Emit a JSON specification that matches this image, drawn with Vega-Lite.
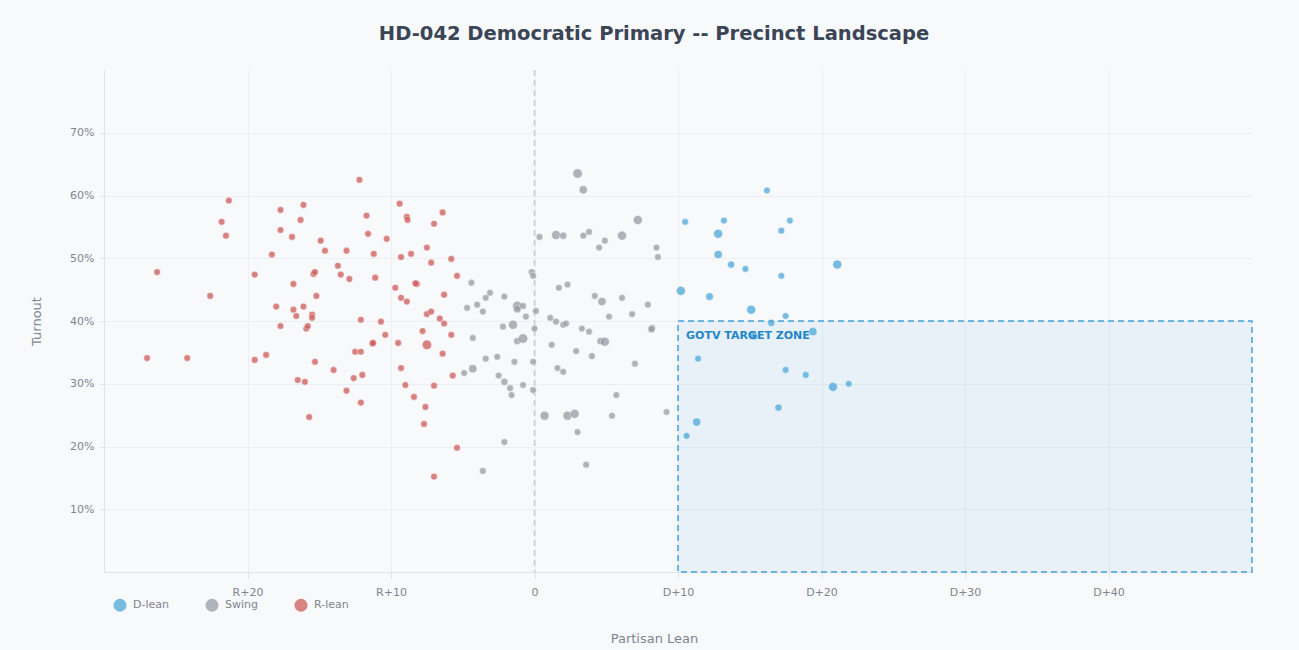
{
  "$schema": "https://vega.github.io/schema/vega-lite/v6.json",
  "autosize": {"type": "none"},
  "width": 1148,
  "height": 502,
  "padding": {"left": 104, "top": 70, "right": 47, "bottom": 78},
  "background": "#f8f9fb",
  "config": {
    "view": {"stroke": null, "fill": "#f8f9fb"},
    "font": "DejaVu Sans",
    "axis": {
      "labelFont": "DejaVu Sans", "titleFont": "DejaVu Sans",
      "labelColor": "#7f858f", "titleColor": "#7f858f",
      "labelFontSize": 11, "titleFontSize": 13, "titleFontWeight": "normal",
      "gridColor": "#eceef1", "domainColor": "#dfe2e6", "tickColor": "#dfe2e6"
    }
  },
  "title": {
    "text": "HD-042 Democratic Primary -- Precinct Landscape",
    "fontSize": 19.5, "font": "DejaVu Sans", "fontWeight": "bold", "color": "#3a4556",
    "anchor": "middle", "dx": -24, "offset": 25
  },
  "datasets": {
    "precincts": [
      {"lean": -27.0, "turnout": 0.341, "group": "R-lean", "voters": 900},
      {"lean": -24.2, "turnout": 0.341, "group": "R-lean", "voters": 900},
      {"lean": -26.3, "turnout": 0.478, "group": "R-lean", "voters": 900},
      {"lean": -22.6, "turnout": 0.440, "group": "R-lean", "voters": 900},
      {"lean": -21.8, "turnout": 0.558, "group": "R-lean", "voters": 900},
      {"lean": -21.5, "turnout": 0.536, "group": "R-lean", "voters": 900},
      {"lean": -21.3, "turnout": 0.592, "group": "R-lean", "voters": 900},
      {"lean": -19.5, "turnout": 0.474, "group": "R-lean", "voters": 900},
      {"lean": -19.5, "turnout": 0.338, "group": "R-lean", "voters": 900},
      {"lean": -18.7, "turnout": 0.346, "group": "R-lean", "voters": 900},
      {"lean": -18.3, "turnout": 0.506, "group": "R-lean", "voters": 900},
      {"lean": -18.0, "turnout": 0.423, "group": "R-lean", "voters": 900},
      {"lean": -17.7, "turnout": 0.545, "group": "R-lean", "voters": 900},
      {"lean": -17.7, "turnout": 0.577, "group": "R-lean", "voters": 900},
      {"lean": -17.7, "turnout": 0.392, "group": "R-lean", "voters": 900},
      {"lean": -16.9, "turnout": 0.534, "group": "R-lean", "voters": 900},
      {"lean": -16.8, "turnout": 0.459, "group": "R-lean", "voters": 900},
      {"lean": -16.8, "turnout": 0.418, "group": "R-lean", "voters": 900},
      {"lean": -16.6, "turnout": 0.408, "group": "R-lean", "voters": 900},
      {"lean": -16.5, "turnout": 0.306, "group": "R-lean", "voters": 900},
      {"lean": -16.3, "turnout": 0.561, "group": "R-lean", "voters": 900},
      {"lean": -16.1, "turnout": 0.585, "group": "R-lean", "voters": 900},
      {"lean": -16.1, "turnout": 0.423, "group": "R-lean", "voters": 900},
      {"lean": -16.0, "turnout": 0.303, "group": "R-lean", "voters": 900},
      {"lean": -15.9, "turnout": 0.388, "group": "R-lean", "voters": 900},
      {"lean": -15.8, "turnout": 0.392, "group": "R-lean", "voters": 900},
      {"lean": -15.7, "turnout": 0.247, "group": "R-lean", "voters": 900},
      {"lean": -15.5, "turnout": 0.410, "group": "R-lean", "voters": 900},
      {"lean": -15.5, "turnout": 0.405, "group": "R-lean", "voters": 900},
      {"lean": -15.4, "turnout": 0.475, "group": "R-lean", "voters": 900},
      {"lean": -15.3, "turnout": 0.478, "group": "R-lean", "voters": 900},
      {"lean": -15.2, "turnout": 0.440, "group": "R-lean", "voters": 900},
      {"lean": -15.3, "turnout": 0.335, "group": "R-lean", "voters": 900},
      {"lean": -14.9, "turnout": 0.528, "group": "R-lean", "voters": 900},
      {"lean": -14.6, "turnout": 0.512, "group": "R-lean", "voters": 900},
      {"lean": -14.0, "turnout": 0.322, "group": "R-lean", "voters": 900},
      {"lean": -13.7, "turnout": 0.488, "group": "R-lean", "voters": 900},
      {"lean": -13.5, "turnout": 0.474, "group": "R-lean", "voters": 900},
      {"lean": -13.1, "turnout": 0.512, "group": "R-lean", "voters": 900},
      {"lean": -13.1, "turnout": 0.289, "group": "R-lean", "voters": 900},
      {"lean": -12.9, "turnout": 0.467, "group": "R-lean", "voters": 900},
      {"lean": -12.6, "turnout": 0.309, "group": "R-lean", "voters": 900},
      {"lean": -12.5, "turnout": 0.351, "group": "R-lean", "voters": 900},
      {"lean": -12.2, "turnout": 0.625, "group": "R-lean", "voters": 900},
      {"lean": -12.1, "turnout": 0.351, "group": "R-lean", "voters": 900},
      {"lean": -12.1, "turnout": 0.402, "group": "R-lean", "voters": 900},
      {"lean": -12.0, "turnout": 0.314, "group": "R-lean", "voters": 900},
      {"lean": -12.1, "turnout": 0.270, "group": "R-lean", "voters": 900},
      {"lean": -11.7, "turnout": 0.568, "group": "R-lean", "voters": 900},
      {"lean": -11.6, "turnout": 0.539, "group": "R-lean", "voters": 900},
      {"lean": -11.3, "turnout": 0.364, "group": "R-lean", "voters": 900},
      {"lean": -11.25, "turnout": 0.365, "group": "R-lean", "voters": 900},
      {"lean": -11.2, "turnout": 0.507, "group": "R-lean", "voters": 900},
      {"lean": -11.1, "turnout": 0.469, "group": "R-lean", "voters": 900},
      {"lean": -10.7, "turnout": 0.399, "group": "R-lean", "voters": 900},
      {"lean": -10.4, "turnout": 0.378, "group": "R-lean", "voters": 900},
      {"lean": -10.3, "turnout": 0.531, "group": "R-lean", "voters": 900},
      {"lean": -9.7, "turnout": 0.453, "group": "R-lean", "voters": 900},
      {"lean": -9.5, "turnout": 0.365, "group": "R-lean", "voters": 900},
      {"lean": -9.4, "turnout": 0.587, "group": "R-lean", "voters": 900},
      {"lean": -9.3, "turnout": 0.502, "group": "R-lean", "voters": 900},
      {"lean": -9.3, "turnout": 0.437, "group": "R-lean", "voters": 900},
      {"lean": -9.3, "turnout": 0.325, "group": "R-lean", "voters": 900},
      {"lean": -8.9, "turnout": 0.566, "group": "R-lean", "voters": 900},
      {"lean": -8.85, "turnout": 0.561, "group": "R-lean", "voters": 900},
      {"lean": -9.0, "turnout": 0.298, "group": "R-lean", "voters": 900},
      {"lean": -8.9, "turnout": 0.431, "group": "R-lean", "voters": 900},
      {"lean": -8.6, "turnout": 0.507, "group": "R-lean", "voters": 900},
      {"lean": -8.4, "turnout": 0.279, "group": "R-lean", "voters": 900},
      {"lean": -8.2, "turnout": 0.459, "group": "R-lean", "voters": 900},
      {"lean": -8.3, "turnout": 0.460, "group": "R-lean", "voters": 900},
      {"lean": -7.8, "turnout": 0.384, "group": "R-lean", "voters": 900},
      {"lean": -7.6, "turnout": 0.263, "group": "R-lean", "voters": 900},
      {"lean": -7.7, "turnout": 0.236, "group": "R-lean", "voters": 900},
      {"lean": -7.5, "turnout": 0.411, "group": "R-lean", "voters": 900},
      {"lean": -7.5, "turnout": 0.517, "group": "R-lean", "voters": 900},
      {"lean": -7.5, "turnout": 0.362, "group": "R-lean", "voters": 1500},
      {"lean": -7.2, "turnout": 0.493, "group": "R-lean", "voters": 900},
      {"lean": -7.2, "turnout": 0.415, "group": "R-lean", "voters": 900},
      {"lean": -7.0, "turnout": 0.297, "group": "R-lean", "voters": 900},
      {"lean": -7.0, "turnout": 0.152, "group": "R-lean", "voters": 900},
      {"lean": -7.0, "turnout": 0.555, "group": "R-lean", "voters": 900},
      {"lean": -6.6, "turnout": 0.404, "group": "R-lean", "voters": 900},
      {"lean": -6.4, "turnout": 0.573, "group": "R-lean", "voters": 900},
      {"lean": -6.4, "turnout": 0.348, "group": "R-lean", "voters": 900},
      {"lean": -6.3, "turnout": 0.442, "group": "R-lean", "voters": 900},
      {"lean": -6.3, "turnout": 0.396, "group": "R-lean", "voters": 900},
      {"lean": -5.8, "turnout": 0.499, "group": "R-lean", "voters": 900},
      {"lean": -5.8, "turnout": 0.378, "group": "R-lean", "voters": 900},
      {"lean": -5.7, "turnout": 0.313, "group": "R-lean", "voters": 900},
      {"lean": -5.4, "turnout": 0.472, "group": "R-lean", "voters": 900},
      {"lean": -5.4, "turnout": 0.198, "group": "R-lean", "voters": 900},

      {"lean": 3.0, "turnout": 0.635, "group": "Swing", "voters": 1500},
      {"lean": 3.4, "turnout": 0.609, "group": "Swing", "voters": 1200},
      {"lean": 7.2, "turnout": 0.561, "group": "Swing", "voters": 1400},
      {"lean": 0.35, "turnout": 0.534, "group": "Swing", "voters": 900},
      {"lean": 1.5, "turnout": 0.537, "group": "Swing", "voters": 1400},
      {"lean": 2.0, "turnout": 0.536, "group": "Swing", "voters": 1000},
      {"lean": 3.4, "turnout": 0.536, "group": "Swing", "voters": 900},
      {"lean": 3.8, "turnout": 0.542, "group": "Swing", "voters": 900},
      {"lean": 6.1, "turnout": 0.536, "group": "Swing", "voters": 1400},
      {"lean": 4.9, "turnout": 0.528, "group": "Swing", "voters": 900},
      {"lean": 4.5, "turnout": 0.517, "group": "Swing", "voters": 900},
      {"lean": 8.5, "turnout": 0.517, "group": "Swing", "voters": 900},
      {"lean": 8.6, "turnout": 0.502, "group": "Swing", "voters": 900},
      {"lean": -0.2, "turnout": 0.478, "group": "Swing", "voters": 900},
      {"lean": -0.1, "turnout": 0.472, "group": "Swing", "voters": 900},
      {"lean": -4.4, "turnout": 0.461, "group": "Swing", "voters": 900},
      {"lean": 1.7, "turnout": 0.453, "group": "Swing", "voters": 900},
      {"lean": 2.3, "turnout": 0.458, "group": "Swing", "voters": 900},
      {"lean": -3.1, "turnout": 0.445, "group": "Swing", "voters": 900},
      {"lean": -3.4, "turnout": 0.437, "group": "Swing", "voters": 900},
      {"lean": -2.1, "turnout": 0.439, "group": "Swing", "voters": 900},
      {"lean": 4.2, "turnout": 0.440, "group": "Swing", "voters": 900},
      {"lean": 4.7, "turnout": 0.431, "group": "Swing", "voters": 1200},
      {"lean": 6.1, "turnout": 0.437, "group": "Swing", "voters": 900},
      {"lean": 7.9, "turnout": 0.426, "group": "Swing", "voters": 900},
      {"lean": -4.7, "turnout": 0.421, "group": "Swing", "voters": 900},
      {"lean": -4.0, "turnout": 0.426, "group": "Swing", "voters": 900},
      {"lean": -3.6, "turnout": 0.415, "group": "Swing", "voters": 900},
      {"lean": -1.2, "turnout": 0.424, "group": "Swing", "voters": 1500},
      {"lean": -1.2, "turnout": 0.419, "group": "Swing", "voters": 1100},
      {"lean": -0.8, "turnout": 0.424, "group": "Swing", "voters": 900},
      {"lean": -0.6, "turnout": 0.407, "group": "Swing", "voters": 900},
      {"lean": 0.1, "turnout": 0.416, "group": "Swing", "voters": 900},
      {"lean": 1.1, "turnout": 0.405, "group": "Swing", "voters": 900},
      {"lean": 1.5, "turnout": 0.399, "group": "Swing", "voters": 900},
      {"lean": 2.0, "turnout": 0.394, "group": "Swing", "voters": 900},
      {"lean": 2.2, "turnout": 0.396, "group": "Swing", "voters": 900},
      {"lean": 3.3, "turnout": 0.388, "group": "Swing", "voters": 900},
      {"lean": 3.8, "turnout": 0.383, "group": "Swing", "voters": 900},
      {"lean": 5.2, "turnout": 0.407, "group": "Swing", "voters": 900},
      {"lean": 6.8, "turnout": 0.411, "group": "Swing", "voters": 900},
      {"lean": 8.2, "turnout": 0.389, "group": "Swing", "voters": 900},
      {"lean": 8.15, "turnout": 0.387, "group": "Swing", "voters": 1000},
      {"lean": -2.2, "turnout": 0.391, "group": "Swing", "voters": 900},
      {"lean": -1.5, "turnout": 0.394, "group": "Swing", "voters": 1400},
      {"lean": -4.3, "turnout": 0.373, "group": "Swing", "voters": 900},
      {"lean": -1.2, "turnout": 0.368, "group": "Swing", "voters": 1000},
      {"lean": -0.8, "turnout": 0.372, "group": "Swing", "voters": 1500},
      {"lean": 0.0, "turnout": 0.388, "group": "Swing", "voters": 900},
      {"lean": 1.2, "turnout": 0.362, "group": "Swing", "voters": 900},
      {"lean": 2.9, "turnout": 0.352, "group": "Swing", "voters": 900},
      {"lean": 4.0, "turnout": 0.344, "group": "Swing", "voters": 900},
      {"lean": 4.6, "turnout": 0.368, "group": "Swing", "voters": 1000},
      {"lean": 4.9, "turnout": 0.367, "group": "Swing", "voters": 1400},
      {"lean": 7.0, "turnout": 0.332, "group": "Swing", "voters": 900},
      {"lean": -3.4, "turnout": 0.340, "group": "Swing", "voters": 900},
      {"lean": -2.6, "turnout": 0.343, "group": "Swing", "voters": 900},
      {"lean": -1.4, "turnout": 0.335, "group": "Swing", "voters": 900},
      {"lean": -0.1, "turnout": 0.335, "group": "Swing", "voters": 900},
      {"lean": 1.6, "turnout": 0.325, "group": "Swing", "voters": 900},
      {"lean": 2.0, "turnout": 0.319, "group": "Swing", "voters": 900},
      {"lean": -4.9, "turnout": 0.317, "group": "Swing", "voters": 900},
      {"lean": -4.3, "turnout": 0.324, "group": "Swing", "voters": 1200},
      {"lean": -2.5, "turnout": 0.313, "group": "Swing", "voters": 900},
      {"lean": -2.1, "turnout": 0.303, "group": "Swing", "voters": 1000},
      {"lean": -1.7, "turnout": 0.293, "group": "Swing", "voters": 900},
      {"lean": -1.6, "turnout": 0.282, "group": "Swing", "voters": 900},
      {"lean": -0.8, "turnout": 0.298, "group": "Swing", "voters": 900},
      {"lean": -0.1, "turnout": 0.290, "group": "Swing", "voters": 900},
      {"lean": 5.7, "turnout": 0.282, "group": "Swing", "voters": 900},
      {"lean": 0.7, "turnout": 0.249, "group": "Swing", "voters": 1400},
      {"lean": 2.3, "turnout": 0.249, "group": "Swing", "voters": 1400},
      {"lean": 2.8, "turnout": 0.252, "group": "Swing", "voters": 1400},
      {"lean": 5.4, "turnout": 0.249, "group": "Swing", "voters": 900},
      {"lean": 9.2, "turnout": 0.255, "group": "Swing", "voters": 900},
      {"lean": 3.0, "turnout": 0.223, "group": "Swing", "voters": 900},
      {"lean": -2.1, "turnout": 0.207, "group": "Swing", "voters": 900},
      {"lean": 3.6, "turnout": 0.171, "group": "Swing", "voters": 900},
      {"lean": -3.6, "turnout": 0.161, "group": "Swing", "voters": 900},

      {"lean": 16.2, "turnout": 0.608, "group": "D-lean", "voters": 900},
      {"lean": 10.5, "turnout": 0.558, "group": "D-lean", "voters": 900},
      {"lean": 13.2, "turnout": 0.560, "group": "D-lean", "voters": 900},
      {"lean": 17.8, "turnout": 0.560, "group": "D-lean", "voters": 900},
      {"lean": 17.2, "turnout": 0.544, "group": "D-lean", "voters": 900},
      {"lean": 12.8, "turnout": 0.539, "group": "D-lean", "voters": 1400},
      {"lean": 12.8, "turnout": 0.506, "group": "D-lean", "voters": 1200},
      {"lean": 13.7, "turnout": 0.490, "group": "D-lean", "voters": 1000},
      {"lean": 14.7, "turnout": 0.483, "group": "D-lean", "voters": 900},
      {"lean": 21.1, "turnout": 0.490, "group": "D-lean", "voters": 1400},
      {"lean": 17.2, "turnout": 0.472, "group": "D-lean", "voters": 900},
      {"lean": 10.2, "turnout": 0.448, "group": "D-lean", "voters": 1400},
      {"lean": 12.2, "turnout": 0.439, "group": "D-lean", "voters": 1100},
      {"lean": 15.1, "turnout": 0.418, "group": "D-lean", "voters": 1400},
      {"lean": 17.5, "turnout": 0.408, "group": "D-lean", "voters": 900},
      {"lean": 16.5, "turnout": 0.397, "group": "D-lean", "voters": 1000},
      {"lean": 19.4, "turnout": 0.383, "group": "D-lean", "voters": 1200},
      {"lean": 15.3, "turnout": 0.376, "group": "D-lean", "voters": 1100},
      {"lean": 11.4, "turnout": 0.340, "group": "D-lean", "voters": 900},
      {"lean": 17.5, "turnout": 0.322, "group": "D-lean", "voters": 900},
      {"lean": 18.9, "turnout": 0.314, "group": "D-lean", "voters": 900},
      {"lean": 20.8, "turnout": 0.295, "group": "D-lean", "voters": 1400},
      {"lean": 21.9, "turnout": 0.300, "group": "D-lean", "voters": 900},
      {"lean": 17.0, "turnout": 0.262, "group": "D-lean", "voters": 1000},
      {"lean": 11.3, "turnout": 0.239, "group": "D-lean", "voters": 1200},
      {"lean": 10.6, "turnout": 0.217, "group": "D-lean", "voters": 900}
    ],
    "zone": [
      {"label": "GOTV TARGET ZONE", "lean_min": 10, "lean_max": 50, "turnout_min": 0, "turnout_max": 0.4}
    ],
    "center": [{"lean": 0}]
  },
  "layer": [
    {
      "data": {"name": "zone"},
      "mark": {"type": "rect", "fill": "#3498db", "fillOpacity": 0.08, "stroke": "#3498db", "strokeWidth": 1.5, "strokeDash": [6, 4], "strokeOpacity": 0.9},
      "encoding": {
        "x": {"field": "lean_min", "type": "quantitative", "scale": {"domain": [-30, 50], "nice": false, "zero": false},
          "axis": {
            "values": [-20, -10, 0, 10, 20, 30, 40],
            "labelExpr": "datum.value < 0 ? 'R+' + abs(datum.value) : (datum.value > 0 ? 'D+' + datum.value : '0')",
            "title": "Partisan Lean", "titleX": 550, "titleY": 66, "titleBaseline": "middle",
            "tickSize": 6, "labelPadding": 8, "domain": true, "grid": true
          }},
        "x2": {"field": "lean_max"},
        "y": {"field": "turnout_min", "type": "quantitative", "scale": {"domain": [0, 0.8], "nice": false},
          "axis": {
            "values": [0.1, 0.2, 0.3, 0.4, 0.5, 0.6, 0.7], "format": ".0%",
            "title": "Turnout", "titleX": -68, "titleY": 251, "titleAngle": -90, "titleBaseline": "middle", "titleAlign": "center",
            "tickSize": 4, "labelPadding": 6, "grid": true
          }},
        "y2": {"field": "turnout_max"}
      }
    },
    {
      "data": {"name": "center"},
      "mark": {"type": "rule", "stroke": "#c9ccd3", "strokeWidth": 1.5, "strokeDash": [6, 4]},
      "encoding": {"x": {"field": "lean", "type": "quantitative"}}
    },
    {
      "data": {"name": "precincts"},
      "mark": {"type": "circle", "opacity": 0.75, "stroke": "#ffffff", "strokeWidth": 0.5},
      "encoding": {
        "x": {"field": "lean", "type": "quantitative"},
        "y": {"field": "turnout", "type": "quantitative"},
        "color": {"field": "group", "type": "nominal",
          "scale": {"domain": ["D-lean", "Swing", "R-lean"], "range": ["#4da8d8", "#979ba4", "#cc5b59"]},
          "legend": {
            "orient": "none", "legendX": 9, "legendY": 528, "direction": "horizontal", "title": null,
            "symbolType": "circle", "symbolSize": 170, "symbolOpacity": 0.75, "symbolStrokeWidth": 0,
            "labelFont": "DejaVu Sans", "labelFontSize": 11, "labelColor": "#7f858f", "columnPadding": 36, "labelOffset": 6
          }},
        "size": {"field": "voters", "type": "quantitative", "scale": {"domain": [900, 1500], "range": [45, 90]}, "legend": null}
      }
    },
    {
      "data": {"name": "zone"},
      "mark": {"type": "text", "align": "left", "baseline": "middle", "dx": 8, "dy": 15, "font": "DejaVu Sans", "fontWeight": "bold", "fontSize": 11, "fill": "#1f86c8"},
      "encoding": {
        "x": {"field": "lean_min", "type": "quantitative"},
        "y": {"field": "turnout_max", "type": "quantitative"},
        "text": {"field": "label"}
      }
    }
  ]
}
